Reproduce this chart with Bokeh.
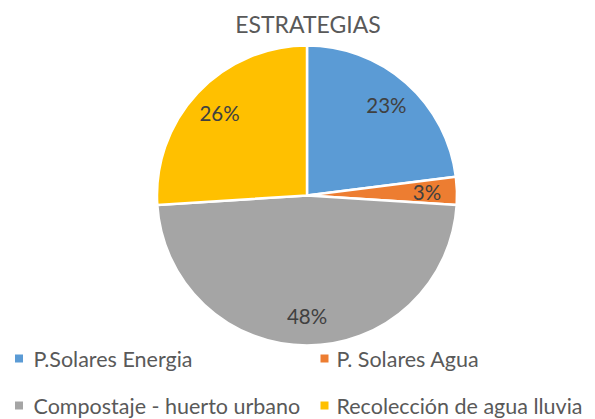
import numpy as np
from bokeh.plotting import figure
from bokeh.models import ColumnDataSource, Range1d
from bokeh.core.properties import value
from bokeh.embed import file_html
from bokeh.resources import INLINE

# ---- data ----
title_text = "ESTRATEGIAS"
categories = ["P.Solares Energia", "P. Solares Agua",
              "Compostaje - huerto urbano", "Recolección de agua lluvia"]
percentages = [23, 3, 48, 26]
colors = ["#5B9BD5", "#ED7D31", "#A5A5A5", "#FFC000"]

# ---- layout (page pixels) ----
OFF = 0
W, H = 595, 419
CX, CY = 306.5, 195.0   # pie centre on the page
R = 150.0
FONT = "Lato"

p = figure(width=W, height=H, output_backend="svg", toolbar_location=None,
           x_range=Range1d(OFF - CX, OFF + W - CX),
           y_range=Range1d(CY - OFF - H, CY - OFF),
           min_border=0)
p.axis.visible = False
p.grid.visible = False
p.outline_line_color = None
p.background_fill_color = "white"
p.border_fill_color = "white"

vals = np.array(percentages, dtype=float)
frac = vals / vals.sum()
cum = np.concatenate([[0], np.cumsum(frac)])
start = np.pi / 2 - 2 * np.pi * cum[:-1]
end = np.pi / 2 - 2 * np.pi * cum[1:]
mid = (start + end) / 2

src = ColumnDataSource(dict(start=start, end=end, color=colors,
                            cat=categories,
                            lx=0.8 * R * np.cos(mid), ly=0.8 * R * np.sin(mid),
                            lab=[f"{v:.0f}%" for v in percentages]))
p.wedge(x=0, y=0, radius=R, start_angle="start", end_angle="end",
        direction="clock", fill_color="color", line_color="white",
        line_width=2.5, source=src)
p.text(x="lx", y="ly", text="lab", source=src, text_align="center",
       text_baseline="middle", text_font=value(FONT), text_font_size="20.5px",
       text_color="#404040")

# title
p.text(x=[307.5 - CX], y=[CY - 23], text=[title_text], text_align="center",
       text_baseline="middle", text_font=value(FONT), text_font_size="23px",
       text_color="#595959")

# legend (2 columns)
sq_x = [18.5, 324.0]
tx_x = [33.0, 336.0]
row_y = [358.0, 405.0]
n = len(categories)
lg = ColumnDataSource(dict(
    sx=[sq_x[i % 2] - CX for i in range(n)],
    tx=[tx_x[i % 2] - CX for i in range(n)],
    y=[CY - row_y[i // 2] for i in range(n)],
    color=colors, cat=categories))
p.scatter(x="sx", y="y", marker="square", size=8, fill_color="color",
          line_color=None, source=lg)
p.text(x="tx", y="y", text="cat", source=lg, text_align="left",
       text_baseline="middle", text_font=value(FONT), text_font_size="21.5px",
       text_color="#595959")

open("out.html", "w").write(file_html(p, INLINE))
